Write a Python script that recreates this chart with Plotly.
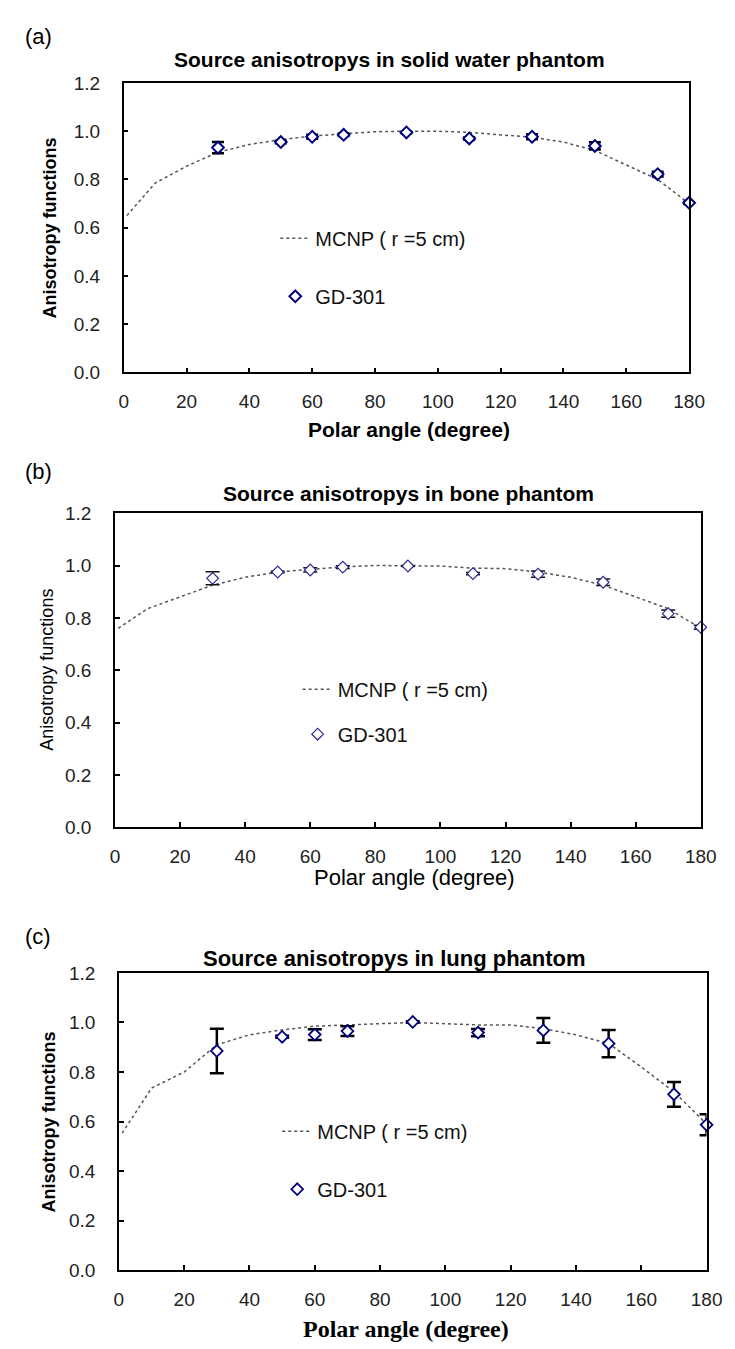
import plotly.graph_objects as go

# ---------------- data ----------------
mc_angles = [1, 10, 20, 30, 40, 50, 60, 70, 80, 90, 100, 110, 120, 130, 140, 150, 160, 170, 180]
mcnp_water = [0.65, 0.785, 0.855, 0.913, 0.945, 0.965, 0.98, 0.99, 0.998, 1.0, 1.0, 0.995, 0.985, 0.975, 0.955, 0.92, 0.86, 0.80, 0.70]
mcnp_bone = [0.76, 0.835, 0.88, 0.925, 0.955, 0.975, 0.985, 0.995, 1.0, 1.0, 0.998, 0.99, 0.988, 0.975, 0.955, 0.925, 0.88, 0.835, 0.76]
mcnp_lung = [0.553, 0.735, 0.80, 0.91, 0.95, 0.97, 0.985, 0.99, 0.995, 1.0, 0.995, 0.99, 0.99, 0.975, 0.95, 0.915, 0.82, 0.72, 0.59]

gd_angles = [30, 50, 60, 70, 90, 110, 130, 150, 170, 180]
gd_water = [0.932, 0.955, 0.977, 0.985, 0.995, 0.970, 0.977, 0.939, 0.822, 0.703]
gd_water_err = [0.023, 0.005, 0.008, 0.005, 0.003, 0.005, 0.010, 0.015, 0.010, 0.005]
gd_bone = [0.951, 0.975, 0.983, 0.994, 0.998, 0.969, 0.967, 0.936, 0.816, 0.764]
gd_bone_err = [0.025, 0.003, 0.008, 0.005, 0.002, 0.004, 0.012, 0.012, 0.014, 0.008]
gd_lung = [0.885, 0.942, 0.951, 0.965, 1.002, 0.959, 0.968, 0.915, 0.710, 0.587]
gd_lung_err = [0.090, 0.004, 0.022, 0.020, 0.003, 0.015, 0.050, 0.055, 0.050, 0.042]

x_ticks = [0, 20, 40, 60, 80, 100, 120, 140, 160, 180]
y_ticks = [0.0, 0.2, 0.4, 0.6, 0.8, 1.0, 1.2]

titles = ["Source anisotropys in solid water phantom",
          "Source anisotropys in bone phantom",
          "Source anisotropys in lung phantom"]
panel_tags = ["(a)", "(b)", "(c)"]
x_title = "Polar angle (degree)"
y_title = "Anisotropy functions"
mc_name = "MCNP ( r =5 cm)"
gd_name = "GD-301"

# ---------------- layout geometry (pixels) ----------------
W, H = 735, 1349
# left, right, top, bottom of each plot area
boxes = [(114, 696, 66, 360), (105, 708, 503, 822), (109, 714, 970, 1272)]


def px(x):
    return x / W


def py(y):
    return 1 - y / H


SANS = "Liberation Sans, Arial, sans-serif"
SERIF = "Liberation Serif, Times New Roman, serif"
NAVY = "#000080"

fig = go.Figure()

panels = [
    (mcnp_water, gd_water, gd_water_err, dict(mw=2, ebt=2.5, ebw=6, ebc="#000000", mc=NAVY)),
    (mcnp_bone, gd_bone, gd_bone_err, dict(mw=1.2, ebt=1.5, ebw=7, ebc="#111111", mc="#2a2a9a")),
    (mcnp_lung, gd_lung, gd_lung_err, dict(mw=1.8, ebt=2.5, ebw=7, ebc="#000000", mc=NAVY)),
]

# legend top-left position (px) and gap between the two entries
legend_pos = [(270, 204, 29), (293, 662, 16), (272, 1111, 29)]

for i, (mc, gd, err, st) in enumerate(panels):
    sfx = "" if i == 0 else str(i + 1)
    leg = "legend" if i == 0 else "legend" + str(i + 1)
    fig.add_trace(go.Scatter(
        x=mc_angles, y=mc, mode="lines", name=mc_name,
        line=dict(color="#555555", width=1.5, dash="3px,3px"),
        xaxis="x" + sfx, yaxis="y" + sfx, legend=leg, legendgroup="mc" + sfx,
        hoverinfo="skip"))
    fig.add_trace(go.Scatter(
        x=gd_angles, y=gd, mode="markers", name=gd_name,
        marker=dict(symbol="diamond", size=9, color="white",
                    line=dict(color=st["mc"], width=st["mw"])),
        error_y=dict(type="data", array=err, visible=True, color=st["ebc"],
                     thickness=st["ebt"], width=st["ebw"]),
        cliponaxis=False,
        xaxis="x" + sfx, yaxis="y" + sfx, legend=leg, legendgroup="gd" + sfx))

layout = dict(
    width=W, height=H,
    margin=dict(l=0, r=0, t=0, b=0),
    paper_bgcolor="white", plot_bgcolor="white",
    showlegend=True,
    font=dict(family=SANS, size=19, color="#000000"),
)

for i, (l, r, t, b) in enumerate(boxes):
    sfx = "" if i == 0 else str(i + 1)
    xa = dict(domain=[px(l), px(r)], range=[0, 180], tickvals=x_ticks,
              ticks="inside", ticklen=5, tickwidth=1.5, tickcolor="#000",
              showline=True, linecolor="#000", linewidth=1.5, mirror=True,
              showgrid=False, zeroline=False, anchor="y" + sfx,
              ticklabelstandoff=11, tickfont=dict(family=SANS, size=19, color="#222"))
    ya = dict(domain=[py(b), py(t)], range=[0, 1.2], tickvals=y_ticks, tickformat=".1f",
              ticks="inside", ticklen=5, tickwidth=1.5, tickcolor="#000",
              showline=True, linecolor="#000", linewidth=1.5, mirror=True,
              showgrid=False, zeroline=False, anchor="x" + sfx,
              ticklabelstandoff=18, tickfont=dict(family=SANS, size=19, color="#222"))
    layout["xaxis" + sfx] = xa
    layout["yaxis" + sfx] = ya
    lx, ly, gap = legend_pos[i]
    layout["legend" if i == 0 else "legend" + str(i + 1)] = dict(
        x=px(lx), y=py(ly), xanchor="left", yanchor="top",
        bgcolor="rgba(0,0,0,0)", borderwidth=0,
        font=dict(family=SANS, size=20, color="#111"),
        traceorder="grouped", tracegroupgap=gap, itemwidth=30,
    )

fig.update_layout(**layout)

# text annotations
title_pos = [(388, 42), (407, 483), (393, 955)]
title_sizes = [21, 21, 22]
tag_pos = [(26, 19), (26, 461), (26, 933)]
xt_pos = [(408, 418), (413, 873), (405, 1332)]
yt_pos = [(38, 213), (35, 662), (37, 1121)]
xt_fonts = [dict(family=SANS, size=21, color="#000", weight="bold"),
            dict(family=SANS, size=22, color="#000"),
            dict(family=SERIF, size=24, color="#000", weight="bold")]
yt_fonts = [dict(family=SANS, size=18, color="#000", weight="bold"),
            dict(family=SANS, size=18, color="#000"),
            dict(family=SANS, size=18, color="#000", weight="bold")]

for i in range(3):
    fig.add_annotation(x=px(title_pos[i][0]), y=py(title_pos[i][1]), xref="paper", yref="paper",
                       text=titles[i], showarrow=False, xanchor="center", yanchor="middle",
                       font=dict(family=SANS, size=title_sizes[i], color="#000", weight="bold"))
    fig.add_annotation(x=px(tag_pos[i][0]), y=py(tag_pos[i][1]), xref="paper", yref="paper",
                       text=panel_tags[i], showarrow=False, xanchor="center", yanchor="middle",
                       font=dict(family=SANS, size=22, color="#000"))
    fig.add_annotation(x=px(xt_pos[i][0]), y=py(xt_pos[i][1]), xref="paper", yref="paper",
                       text=x_title, showarrow=False, xanchor="center", yanchor="middle",
                       font=xt_fonts[i])
    fig.add_annotation(x=px(yt_pos[i][0]), y=py(yt_pos[i][1]), xref="paper", yref="paper",
                       text=y_title, showarrow=False, xanchor="center", yanchor="middle",
                       textangle=-90, font=yt_fonts[i])

fig.write_html("out.html")
